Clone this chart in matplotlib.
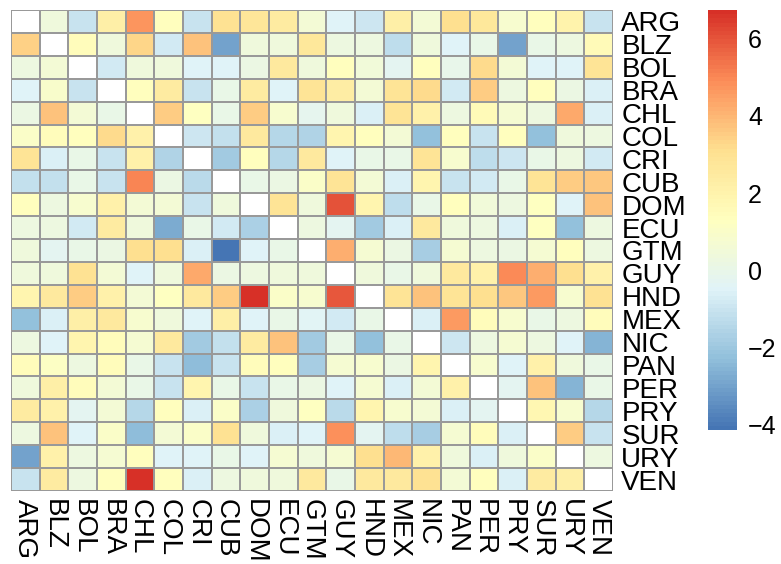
import numpy as np
import matplotlib
matplotlib.use("Agg")
import matplotlib.pyplot as plt
from matplotlib.colors import LinearSegmentedColormap

plt.rcParams['font.family'] = ['Liberation Sans', 'DejaVu Sans']

countries = ['ARG', 'BLZ', 'BOL', 'BRA', 'CHL', 'COL', 'CRI', 'CUB', 'DOM', 'ECU', 'GTM',
             'GUY', 'HND', 'MEX', 'NIC', 'PAN', 'PER', 'PRY', 'SUR', 'URY', 'VEN']

nan = np.nan
# one row per country (diagonal left empty)
ARG = [nan, 0.4, -1.0, 2.2, 4.7, 1.3, -1.0, 3.0, 2.8, 2.4, 0.6, -0.5, -0.9, 2.2, 0.6, 3.1, 2.7, 0.8, 1.3, 2.0, -1.0]
BLZ = [3.4, nan, 1.5, 0.4, 3.3, -0.8, 3.8, -3.0, 0.4, 0.4, 2.7, 0.3, 0.3, -1.3, 0.4, -0.5, 0.0, -3.0, 0.0, 0.3, 1.6]
BOL = [0.3, 0.6, nan, -0.8, 0.4, 0.4, -0.5, -0.5, 0.2, 2.5, 0.4, 1.3, 0.5, -0.3, 1.3, -0.1, 3.2, 0.6, -0.5, -0.5, 2.9]
BRA = [-0.5, 0.9, -1.0, nan, 1.3, 2.4, -1.0, 0.0, 2.4, -0.5, 2.9, 2.3, 0.6, 2.9, 3.2, -0.8, 3.5, 0.3, 1.3, 0.2, -0.6]
CHL = [0.2, 3.8, 0.6, 0.0, nan, 3.5, 1.2, 0.0, 3.5, 0.8, -0.2, 0.4, -0.6, 2.9, 2.1, 0.3, 1.6, 0.7, 0.3, 4.3, -0.6]
COL = [1.0, 1.5, 1.4, 3.2, 2.1, nan, -0.9, -1.2, 2.5, -1.5, -1.6, 1.9, 1.3, 0.6, -2.2, 1.3, -1.0, 1.3, -2.2, 0.4, 0.3]
CRI = [2.9, -0.6, 0.0, -1.0, 2.1, -1.6, nan, -1.9, 1.3, -1.5, 2.5, -0.5, 0.0, 0.1, 2.9, 0.8, -1.3, -0.9, 0.1, 0.3, -0.8]
CUB = [-1.2, -1.2, 0.0, -1.0, 5.1, 0.2, -1.4, nan, 0.0, 0.2, 1.0, 2.9, 0.6, -0.6, 1.9, -1.0, -0.8, 0.0, 2.9, 3.5, 3.6]
DOM = [1.3, 0.3, 0.8, 2.1, 0.6, 0.6, -1.0, 0.4, nan, 2.9, 0.4, 6.0, 1.9, -1.3, 0.0, 1.3, 0.5, 0.3, 1.2, -0.5, 3.8]
ECU = [0.3, 0.3, -0.8, 2.4, 0.4, -2.8, 0.1, -0.8, -1.7, nan, 0.3, -0.3, -1.9, -0.6, 2.5, 0.4, 0.3, -0.6, 1.2, -2.2, 0.3]
GTM = [0.4, -0.3, 0.0, 0.2, 3.1, 3.1, -0.6, -4.15, -0.5, 0.0, nan, 4.2, 0.7, 0.2, -1.8, 0.7, 0.3, 0.2, 0.7, 1.4, 0.3]
GUY = [0.4, 0.4, 3.0, 0.6, -0.5, 0.4, 4.3, 0.2, 0.3, 0.4, 0.4, nan, 0.4, 0.0, 0.4, 2.5, 2.1, 5.0, 4.2, 3.1, 2.1]
HND = [1.9, 2.5, 3.5, 2.1, 0.6, 1.2, 2.5, 3.5, 6.75, 1.0, 0.8, 5.9, nan, 2.9, 3.8, 2.9, 3.1, 3.6, 4.6, 0.8, 3.0]
MEX = [-2.2, -0.6, 2.2, 2.5, 0.8, 0.4, -0.5, 2.2, -0.5, 0.0, -0.4, -0.8, 0.0, nan, -0.6, 4.6, 1.5, 0.8, 0.0, 0.3, 1.5]
NIC = [0.3, -0.5, 1.9, 1.5, 0.7, 2.5, -1.9, -1.2, 2.4, 3.8, -1.9, 0.0, -2.2, 0.0, nan, -0.9, 0.3, 0.7, 0.3, -0.5, -2.6]
PAN = [1.5, 1.1, 0.3, 1.5, 0.1, -1.0, -2.4, -1.0, 1.5, 1.3, -1.8, 0.7, 0.8, 0.2, 1.9, nan, 0.8, -0.5, 2.1, 0.4, 0.1]
PER = [0.4, 2.2, 1.5, 0.6, 0.0, -1.0, 1.9, 0.0, -1.0, 0.0, 0.2, -0.5, 0.7, -0.6, 0.6, 2.1, nan, -0.3, 3.7, -2.6, 0.1]
PRY = [2.4, 2.1, -0.3, 0.6, -1.5, 1.3, -0.6, 1.0, -1.7, 0.4, 1.2, -1.4, 1.9, 0.8, 0.6, -0.6, -0.3, nan, 1.8, 0.8, -1.5]
SUR = [0.3, 3.8, -0.5, 1.0, -2.4, 0.6, 1.0, 3.0, 0.4, -0.6, -0.5, 4.8, -0.3, -1.3, -1.8, 0.7, 1.5, -0.6, nan, 3.5, -1.0]
URY = [-3.0, 2.1, 0.3, 0.7, 1.4, -0.5, -0.5, 0.0, -0.5, 0.7, 0.4, 0.7, 3.1, 4.0, 2.1, 0.4, -0.6, 0.4, 1.0, nan, 0.3]
VEN = [-1.0, 2.4, 0.3, 1.4, 6.7, 1.3, -0.6, 0.3, 0.4, 0.4, 2.5, 0.0, 2.5, 2.5, 3.0, 0.6, 1.4, -0.6, 2.4, 2.2, nan]

data = np.array([ARG, BLZ, BOL, BRA, CHL, COL, CRI, CUB, DOM, ECU, GTM,
                 GUY, HND, MEX, NIC, PAN, PER, PRY, SUR, URY, VEN])

# reversed RdYlBu, 7 classes, 100 steps like pheatmap
cmap = LinearSegmentedColormap.from_list(
    'rdylbu', ['#4575B4', '#91BFDB', '#E0F3F8', '#FFFFBF', '#FEE090', '#FC8D59', '#D73027'], N=100)
cmap.set_bad('white')

W, H = 781, 564
fig = plt.figure(figsize=(W / 100, H / 100), dpi=100)
ax = fig.add_axes([11 / W, 1 - 491 / H, 602 / W, 481 / H])

n = len(countries)
mesh = ax.pcolormesh(np.ma.masked_invalid(data), cmap=cmap,
                     vmin=np.nanmin(data), vmax=np.nanmax(data),
                     edgecolors='#999999', linewidth=1.4)
ax.set_xlim(0, n)
ax.set_ylim(n, 0)
for s in ax.spines.values():
    s.set_visible(False)

ax.set_xticks(np.arange(n) + 0.5)
ax.set_xticklabels(countries, rotation=270, fontsize=20)
ax.set_yticks(np.arange(n) + 0.5)
ax.set_yticklabels(countries, fontsize=20)
ax.yaxis.tick_right()
ax.tick_params(length=0, pad=6)

# legend bar
cax = fig.add_axes([708 / W, 1 - 430 / H, 29 / W, 420 / H])
cb = fig.colorbar(mesh, cax=cax)
cb.outline.set_visible(False)
cb.set_ticks([-4, -2, 0, 2, 4, 6])
cb.ax.tick_params(length=0, labelsize=18, pad=8)

plt.savefig('out.png')
